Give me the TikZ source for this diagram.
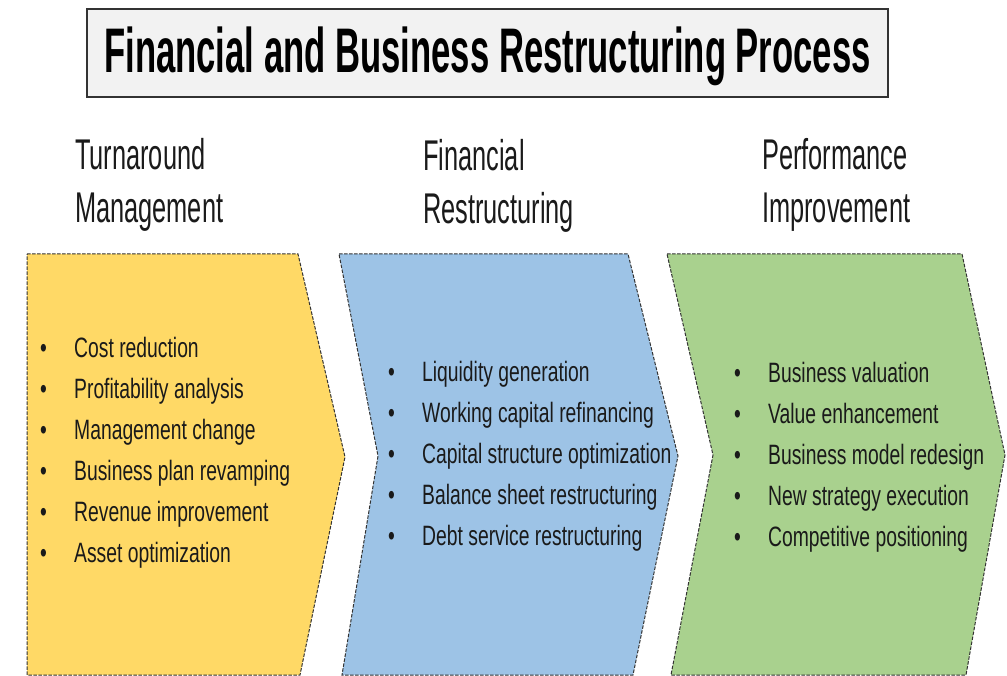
\documentclass[tikz,border=0pt]{standalone}
\usepackage{fontspec}
\setmainfont{Liberation Sans}
\newfontfamily\titlefont[FakeStretch=0.55]{Liberation Sans}
\newfontfamily\headfont[FakeStretch=0.59]{Liberation Sans}
\newfontfamily\listfont[FakeStretch=0.69]{Liberation Sans}
\definecolor{gold}{HTML}{FFD966}
\definecolor{sky}{HTML}{9DC3E6}
\definecolor{leaf}{HTML}{A9D18E}
\definecolor{titlegray}{HTML}{F2F2F2}
\definecolor{edge}{HTML}{333333}
\definecolor{ink}{HTML}{1A1A1A}
\newcommand{\bpoint}[1]{\makebox[34pt][l]{\textbullet}#1}
\tikzset{
  chevron/.style={draw=edge, line width=1pt, dash pattern=on 3.5pt off 1.5pt},
  head/.style={anchor=base west, inner sep=0pt, align=left, text=ink,
    font=\headfont\fontsize{43}{53}\selectfont},
  points/.style={anchor=base west, inner sep=0pt, align=left, text=ink,
    font=\listfont\fontsize{28}{41}\selectfont}
}

\begin{document}
\begin{tikzpicture}[x=1pt,y=-1pt]
\useasboundingbox (0,0) rectangle (1007,676);
%Title
\draw[fill=titlegray, draw=edge, line width=2pt] (87,9) rectangle node[inner sep=0pt, yshift=-3.5pt, font=\titlefont\bfseries\fontsize{63}{70}\selectfont] (title) {Financial and Business Restructuring Process} (888,97);

%Stage 1 (nodes sit on the baseline of their last line)
\draw[chevron, fill=gold] (27,254) -- (298,254) -- (345,457) -- (300,675) -- (27,675) -- cycle;
\node[head] (turn) at (75,223) {Turnaround\\Management};
\node[points] (turnlist) at (40,562) {\bpoint{Cost reduction}\\\bpoint{Profitability analysis}\\\bpoint{Management change}\\\bpoint{Business plan revamping}\\\bpoint{Revenue improvement}\\\bpoint{Asset optimization}};

%Stage 2
\draw[chevron, fill=sky] (339,254) -- (628,254) -- (678,456) -- (633,675) -- (342,675) -- (378,456) -- cycle;
\node[head] (fin) at (423,224) {Financial\\Restructuring};
\node[points] (finlist) at (388,545) {\bpoint{Liquidity generation}\\\bpoint{Working capital refinancing}\\\bpoint{Capital structure optimization}\\\bpoint{Balance sheet restructuring}\\\bpoint{Debt service restructuring}};

%Stage 3
\draw[chevron, fill=leaf] (667,254) -- (962,254) -- (1005,455) -- (966,675) -- (671,675) -- (713,455) -- cycle;
\node[head] (perf) at (762,223) {Performance\\Improvement};
\node[points] (perflist) at (734,546) {\bpoint{Business valuation}\\\bpoint{Value enhancement}\\\bpoint{Business model redesign}\\\bpoint{New strategy execution}\\\bpoint{Competitive positioning}};
\end{tikzpicture}
\end{document}
